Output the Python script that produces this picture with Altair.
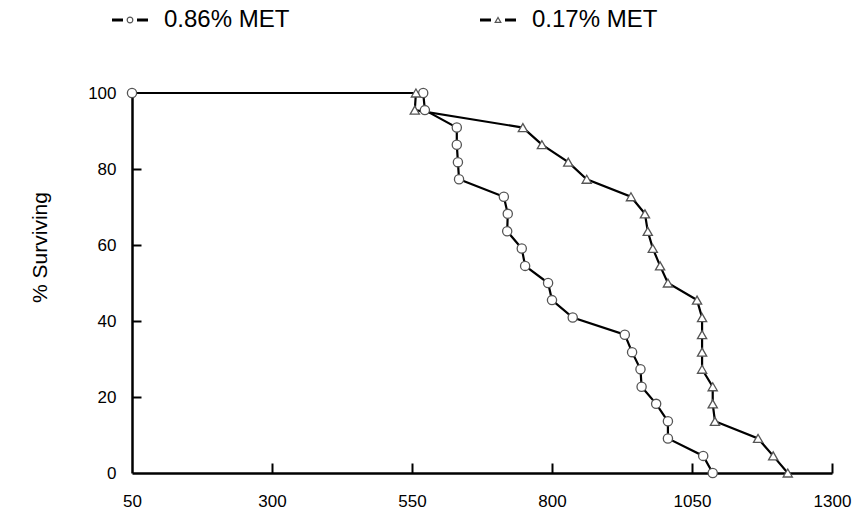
import altair as alt
import pandas as pd

# 0.86% MET (circles)
hi_days = [50, 570, 573, 630, 630, 632, 634, 714, 721, 720, 746, 752, 793, 800,
           837, 930, 943, 958, 960, 986, 1007, 1007, 1070, 1087]
hi_surv = [100, 100, 95.5, 90.9, 86.4, 81.8, 77.3, 72.7, 68.2, 63.6, 59.1, 54.5,
           50.0, 45.5, 40.9, 36.4, 31.8, 27.3, 22.7, 18.2, 13.6, 9.1, 4.5, 0]
# 0.17% MET (triangles)
lo_days = [557, 555, 748, 782, 829, 862, 941, 966, 971, 980, 993, 1007, 1059,
           1068, 1068, 1068, 1068, 1087, 1087, 1091, 1168, 1195, 1221]
lo_surv = [100, 95.5, 90.9, 86.4, 81.8, 77.3, 72.7, 68.2, 63.6, 59.1, 54.5, 50.0,
           45.5, 40.9, 36.4, 31.8, 27.3, 22.7, 18.2, 13.6, 9.1, 4.5, 0]

series_names = ["0.86% MET", "0.17% MET"]
series_shapes = ["circle", "triangle-up"]
x_ticks = [50, 300, 550, 800, 1050, 1300]
y_ticks = [0, 20, 40, 60, 80, 100]

FONT = "Liberation Sans"

rows = []
for i, (d, s) in enumerate(zip(hi_days, hi_surv)):
    rows.append({"series": series_names[0], "days": d, "surv": s, "idx": i})
for i, (d, s) in enumerate(zip(lo_days, lo_surv)):
    rows.append({"series": series_names[1], "days": d, "surv": s, "idx": i})
df = pd.DataFrame(rows)

W, H = 700, 380
xscale = alt.Scale(domain=[50, 1300], nice=False, zero=False)
yscale = alt.Scale(domain=[0, 100], nice=False, zero=True)
shape_scale = alt.Scale(domain=series_names, range=series_shapes)

xaxis = alt.Axis(values=x_ticks, format="d", tickSize=0, labelPadding=20,
                 labelFontSize=17, labelFont=FONT, labelColor="black",
                 domainColor="black", domainWidth=2.5, grid=False, title=None,
                 labelFlush=False)
yaxis = alt.Axis(values=y_ticks, format="d", tickSize=0, labelPadding=16,
                 labelFontSize=17, labelFont=FONT, labelColor="black",
                 domainColor="black", domainWidth=2.5, grid=False,
                 title="% Surviving", titleFont=FONT, titleFontSize=21,
                 titleFontWeight="normal", titleColor="black", titleAngle=270,
                 titleX=-92, titleY=154, titleAlign="center",
                 titleBaseline="middle", labelFlush=False)

# inward-pointing tick axes (placed on the opposite side, offset back onto the frame)
ytick_axis = alt.Axis(orient="right", offset=-W, values=y_ticks[1:-1],
                      labels=False, domain=False, grid=False, title=None,
                      tickSize=9, tickWidth=2, tickColor="black")
xtick_axis = alt.Axis(orient="top", offset=-H, values=x_ticks[1:],
                      labels=False, domain=False, grid=False, title=None,
                      tickSize=10, tickWidth=2, tickColor="black")

base = alt.Chart(df)

lines = base.mark_line(color="black", strokeWidth=2.2).encode(
    x=alt.X("days:Q", scale=xscale, axis=xaxis),
    y=alt.Y("surv:Q", scale=yscale, axis=yaxis),
    detail="series:N",
    order="idx:Q",
)

points = base.mark_point(fill="white", fillOpacity=1, stroke="#555555",
                         strokeWidth=1.3, opacity=1, size=85).encode(
    x=alt.X("days:Q", scale=xscale, axis=xaxis),
    y=alt.Y("surv:Q", scale=yscale, axis=yaxis),
    shape=alt.Shape("series:N", scale=shape_scale, legend=None),
)

main = alt.layer(lines, points)

yt = pd.DataFrame({"tv": y_ticks[1:-1]})
xt = pd.DataFrame({"tv": x_ticks[1:]})
ytick_layer = alt.Chart(yt).mark_point(opacity=0).encode(
    y=alt.Y("tv:Q", scale=yscale, axis=ytick_axis),
    x=alt.value(0),
)
xtick_layer = alt.Chart(xt).mark_point(opacity=0).encode(
    x=alt.X("tv:Q", scale=xscale, axis=xtick_axis),
    y=alt.value(H),
)

# manual legend at top
legend_layers = []
leg_y = -73
leg_x = [-2, 366]
one = alt.Data(values=[{}])
for name, shp, x0 in zip(series_names, series_shapes, leg_x):
    legend_layers.append(alt.Chart(one).mark_rule(color="black", strokeWidth=3).encode(
        x=alt.value(x0 - 18), x2=alt.value(x0 - 7), y=alt.value(leg_y)))
    legend_layers.append(alt.Chart(one).mark_rule(color="black", strokeWidth=3).encode(
        x=alt.value(x0 + 7), x2=alt.value(x0 + 18), y=alt.value(leg_y)))
    legend_layers.append(alt.Chart(one).mark_point(
        shape=shp, size=32, fill="white", fillOpacity=1, stroke="#555555",
        strokeWidth=1.2, opacity=1).encode(x=alt.value(x0), y=alt.value(leg_y)))
    legend_layers.append(alt.Chart(one).mark_text(
        text=name, font=FONT, fontSize=24, align="left", baseline="middle",
        color="black").encode(x=alt.value(x0 + 34), y=alt.value(leg_y)))

chart = alt.layer(main, ytick_layer, xtick_layer, *legend_layers).resolve_axis(
    x="independent", y="independent"
).properties(
    width=W, height=H,
    background="white",
    autosize=alt.AutoSizeParams(type="none"),
    padding={"left": 132, "top": 93, "right": 20, "bottom": 38},
).configure_view(stroke=None, strokeWidth=0)

chart.save("out.html", embed_options={"renderer": "svg", "actions": False})
